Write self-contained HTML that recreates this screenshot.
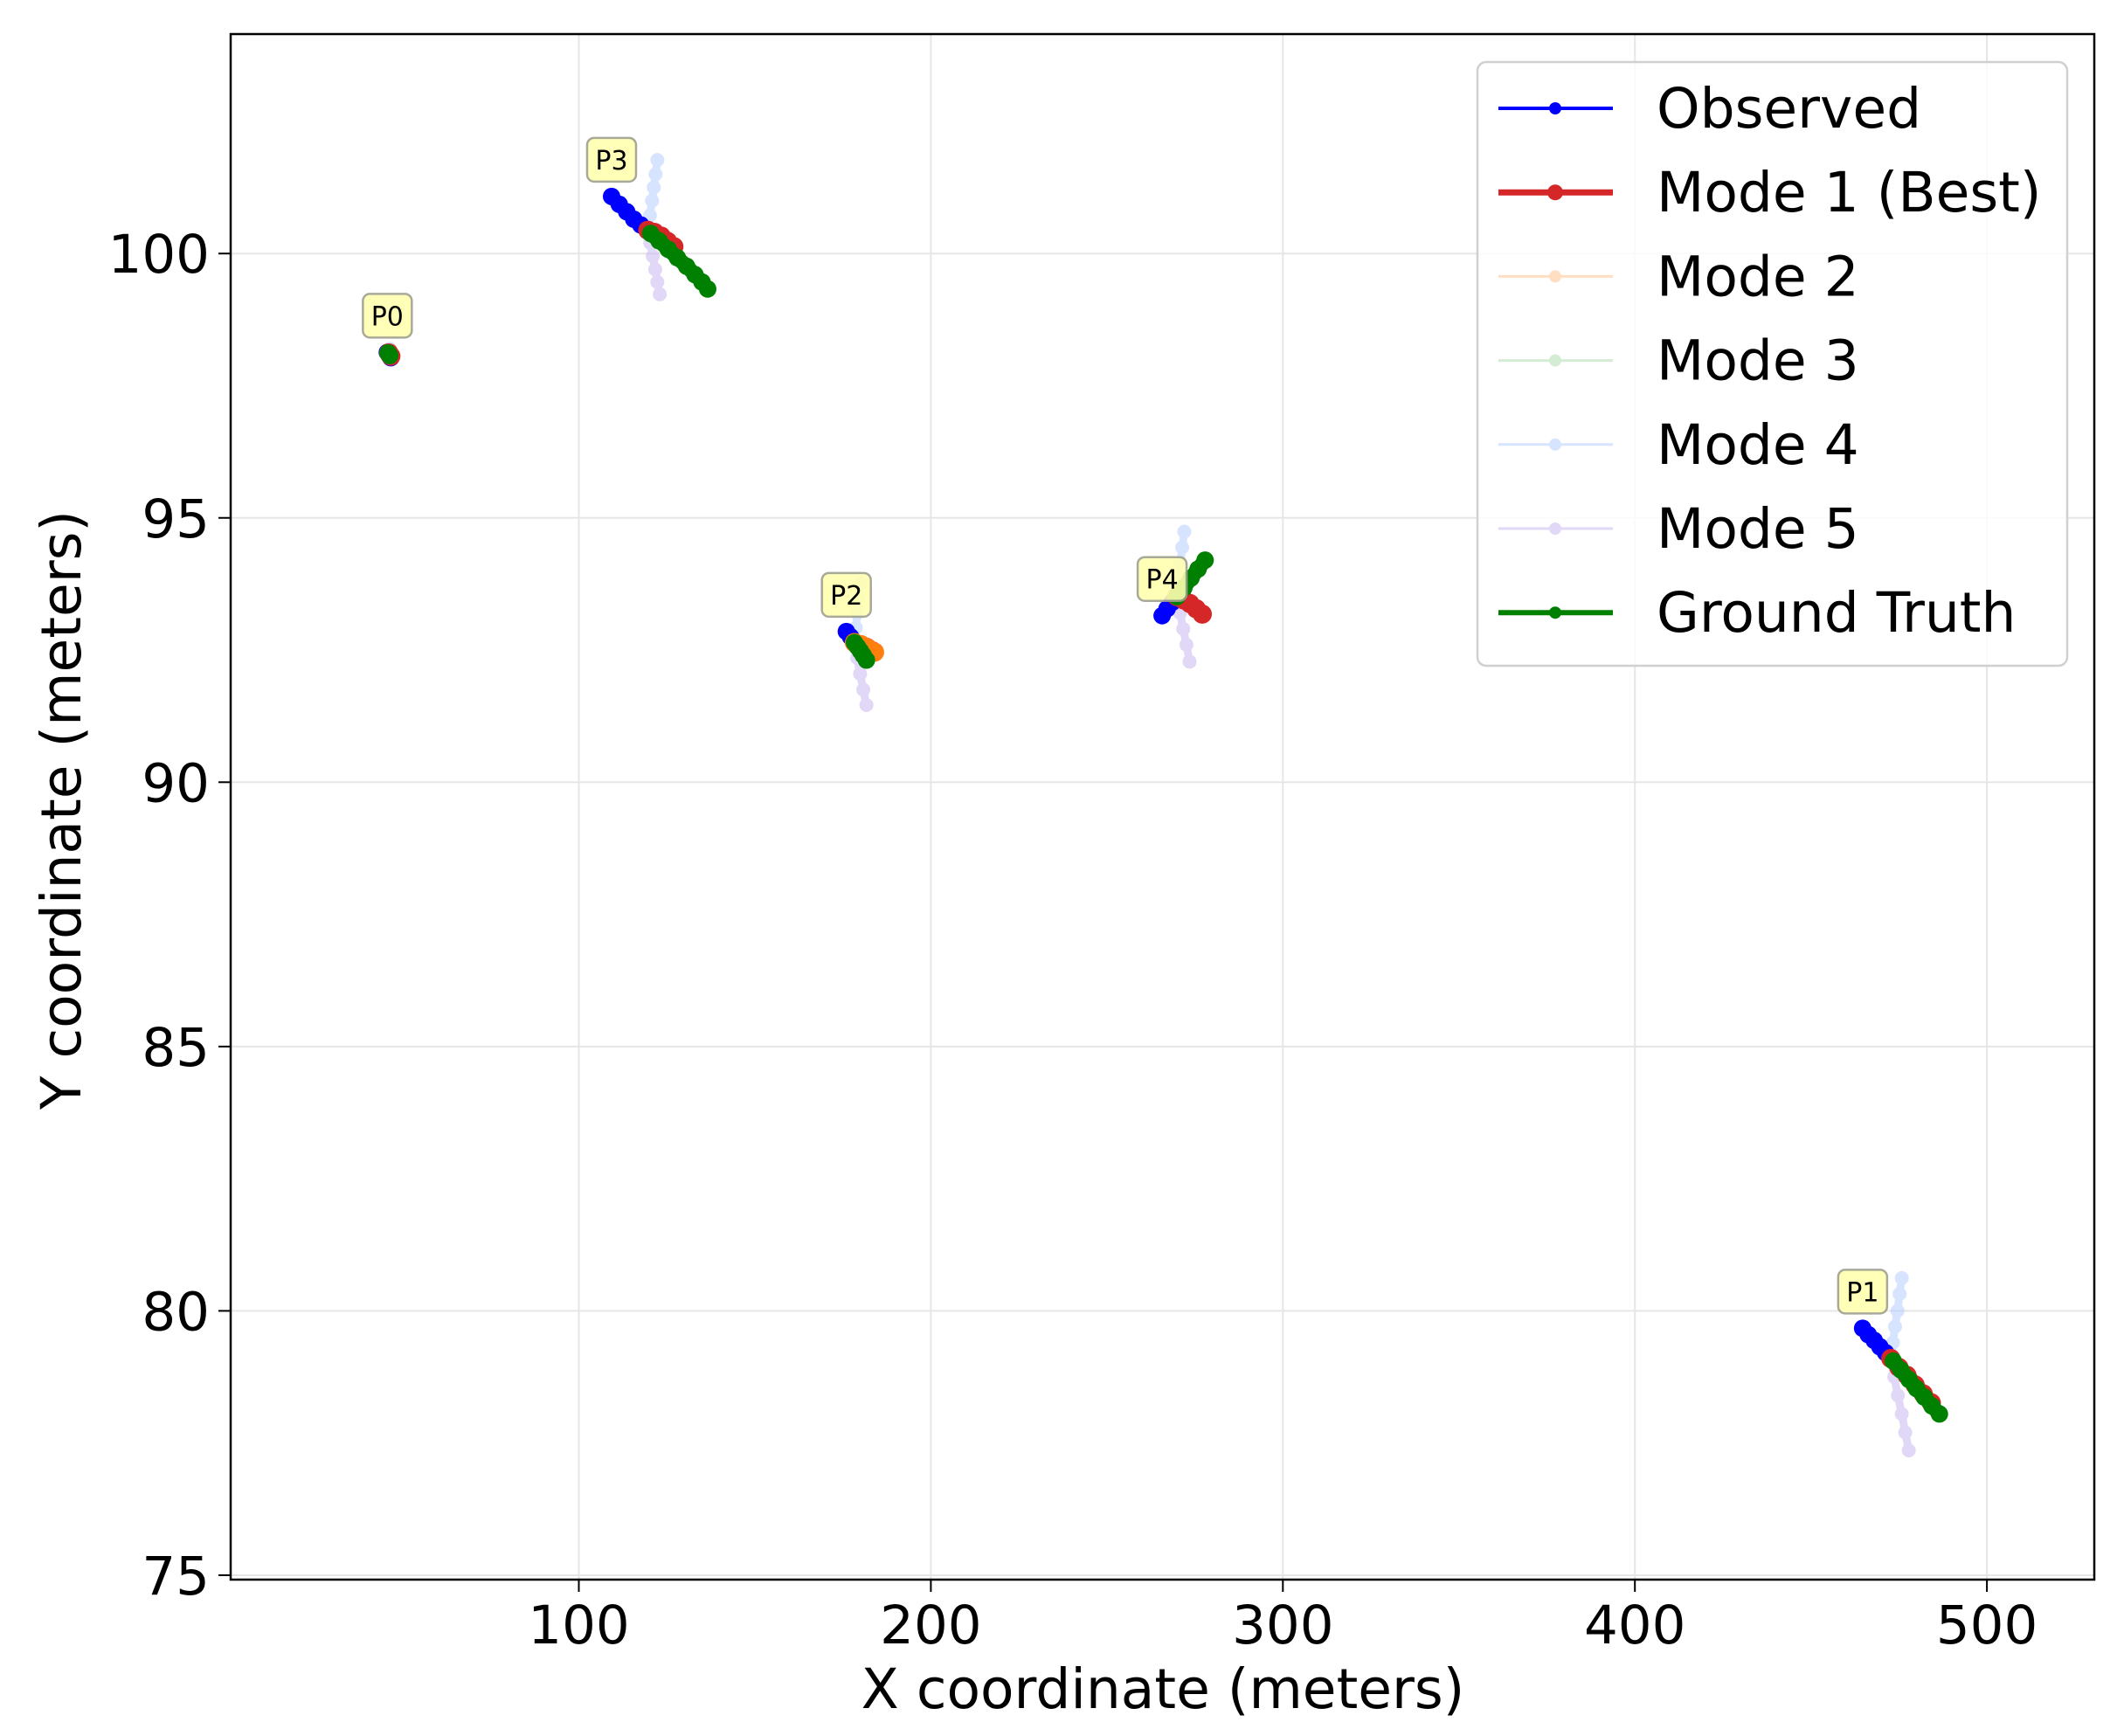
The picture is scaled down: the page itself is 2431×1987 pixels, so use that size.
<!DOCTYPE html>
<html><head><meta charset="utf-8"><style>
html,body{margin:0;padding:0;background:#fff;width:2431px;height:1987px;overflow:hidden}
svg{display:block;font-family:"DejaVu Sans","Liberation Sans",sans-serif}
</style></head><body>
<svg id="chart" width="2431" height="1987" xmlns="http://www.w3.org/2000/svg"></svg>
<script>
// ---- data ----
const xTicks = [100, 200, 300, 400, 500];
const yTicks = [75, 80, 85, 90, 95, 100];
const agentLabels = ["P0", "P3", "P2", "P4", "P1"];
const observedX = [[45.6, 46.1, 46.6], [109.3, 111.5, 113.6, 115.6, 117.6, 119.6], [176.0, 177.2, 178.3], [265.7, 267.1, 268.5, 269.9], [464.7, 466.3, 468.0, 469.6, 471.2, 472.7]];
const observedY = [[98.13, 98.08, 98.03], [101.08, 100.93, 100.79, 100.65, 100.54, 100.44], [92.85, 92.75, 92.64], [93.15, 93.28, 93.40, 93.51], [79.67, 79.55, 79.44, 79.32, 79.21, 79.10]];
const mode1X = [[46.0, 46.6], [119.6, 121.5, 123.4, 125.2, 127.0], [178.3, 180.0, 181.8, 183.5], [269.9, 271.8, 273.6, 275.4, 277.1], [472.7, 475.0, 477.3, 479.6, 481.9, 484.2]];
const mode1Y = [[98.12, 98.06], [100.44, 100.40, 100.33, 100.23, 100.13], [92.64, 92.60, 92.55, 92.48], [93.51, 93.45, 93.38, 93.28, 93.18], [79.10, 78.93, 78.78, 78.60, 78.43, 78.26]];
const mode2X = [[46.0, 46.5], [119.6, 123.0, 126.5], [178.3, 180.2, 182.1, 184.0], [269.9, 273.0, 276.0], [472.7, 477.0, 482.0]];
const mode2Y = [[98.10, 98.05], [100.44, 100.3, 100.15], [92.64, 92.60, 92.54, 92.46], [93.51, 93.40, 93.25], [79.10, 78.80, 78.40]];
const mode3X = [[46.0, 46.4], [119.6, 123.0, 126.0], [178.3, 180.0, 182.0], [269.9, 272.5, 275.0], [472.7, 477.0, 481.0]];
const mode3Y = [[98.10, 98.05], [100.44, 100.25, 100.05], [92.64, 92.50, 92.40], [93.51, 93.40, 93.30], [79.10, 78.80, 78.50]];
const mode4X = [[46.0, 46.3], [119.6, 120.2, 120.8, 121.3, 121.8, 122.3], [178.3, 178.7, 179.1, 179.5, 180.0], [269.9, 270.4, 270.9, 271.4, 272.0], [472.7, 473.3, 473.9, 474.6, 475.2, 475.8]];
const mode4Y = [[98.10, 98.20], [100.44, 100.72, 101.00, 101.25, 101.50, 101.77], [92.64, 92.92, 93.20, 93.48, 93.77], [93.51, 93.82, 94.13, 94.44, 94.74], [79.10, 79.40, 79.70, 80.00, 80.32, 80.62]];
const mode5X = [[46.0, 46.2], [119.6, 120.3, 121.0, 121.7, 122.3, 123.0], [178.3, 179.1, 179.9, 180.8, 181.7], [269.9, 270.8, 271.7, 272.6, 273.5], [472.7, 473.7, 474.7, 475.8, 476.8, 477.8]];
const mode5Y = [[98.10, 98.00], [100.44, 100.2, 99.95, 99.7, 99.46, 99.23], [92.64, 92.35, 92.05, 91.75, 91.46], [93.51, 93.2, 92.9, 92.6, 92.28], [79.10, 78.75, 78.40, 78.05, 77.70, 77.36]];
const truthX = [[45.8, 46.3], [120.4, 122.8, 125.4, 128.0, 130.6, 133.0, 135.0, 136.6], [178.3, 179.2, 180.0, 180.8, 181.7], [269.9, 271.9, 273.9, 275.9, 277.9], [473.4, 475.6, 477.9, 480.0, 482.2, 484.4, 486.5]];
const truthY = [[98.12, 98.07], [100.38, 100.24, 100.08, 99.92, 99.76, 99.6, 99.46, 99.33], [92.64, 92.56, 92.48, 92.40, 92.31], [93.51, 93.68, 93.86, 94.03, 94.20], [79.05, 78.88, 78.70, 78.53, 78.37, 78.20, 78.05]];

// ---- axes ----
const L = 264, R = 2397, T = 39, B = 1808;
const sx = v => 259.6 + v * 4.029;
const sy = v => 290.2 - (v - 100) * 60.51;
const NS = "http://www.w3.org/2000/svg";
const svg = document.getElementById('chart');
function mk(tag, attrs, parent) { const e = document.createElementNS(NS, tag); for (const k in attrs) e.setAttribute(k, attrs[k]); (parent || svg).appendChild(e); return e; }

const grid = mk('g', {});


xTicks.forEach(t => {
  const gl = mk('line', {x1: sx(t), x2: sx(t), y1: T, y2: B, stroke: '#e6e6e6', 'stroke-width': 2}, grid);
  
  
  const tk = mk('line', {x1: sx(t), x2: sx(t), y1: B, y2: B + 14, stroke: '#000', 'stroke-width': 2});
  
  
  const lb = mk('text', {x: sx(t), y: 1881, 'font-size': 61, 'text-anchor': 'middle'});
  lb.textContent = t;
  
  
});
yTicks.forEach(t => {
  const gl = mk('line', {x1: L, x2: R, y1: sy(t), y2: sy(t), stroke: '#e6e6e6', 'stroke-width': 2}, grid);
  
  
  const tk = mk('line', {x1: L - 14, x2: L, y1: sy(t), y2: sy(t), stroke: '#000', 'stroke-width': 2});
  
  
  const lb = mk('text', {x: 240, y: sy(t) + 22, 'font-size': 61, 'text-anchor': 'end'});
  lb.textContent = t;
  
  
});

// ---- series ----
function series(xs, ys, color, lw, r, op, name) {
  const g = mk('g', {opacity: op});
  
  
  xs.forEach((arr, i) => {
    const pts = arr.map((x, j) => sx(x) + ',' + sy(ys[i][j])).join(' ');
    const pl = mk('polyline', {points: pts, fill: 'none', stroke: color, 'stroke-width': lw, 'stroke-linecap': 'round', 'stroke-linejoin': 'round'}, g);
    
    
    arr.forEach((x, j) => {
      const c = mk('circle', {cx: sx(x), cy: sy(ys[i][j]), r: r, fill: color}, g);
      
      
    });
  });
}
series(mode2X, mode2Y, '#ff7f0e', 6, 7, 0.3, 'mode-2');
series(mode3X, mode3Y, '#2ca02c', 6, 7, 0.15, 'mode-3');
series(mode4X, mode4Y, '#aecbff', 9, 8, 0.5, 'mode-4');
series(mode5X, mode5Y, '#c9b8f0', 9, 8, 0.55, 'mode-5');
series(observedX, observedY, '#0000ff', 16, 10, 1, 'observed');
series(mode1X, mode1Y, '#d62728', 18, 11, 1, 'mode-1');
series([mode2X[2]], [mode2Y[2]], '#ff7f0e', 18, 11, 1, 'mode-2-p2');
series(truthX, truthY, '#008000', 17, 10, 1, 'ground-truth');

// ---- agent labels ----
agentLabels.forEach((lab, i) => {
  const x = sx(observedX[i][0]), y = sy(observedY[i][0]) - 42;
  const g = mk('g', {});
  
  
  mk('rect', {x: x - 28, y: y - 25, width: 56, height: 50, rx: 8, fill: '#ffffb0', stroke: '#a0a090', 'stroke-width': 2.5, opacity: 0.9}, g);
  const t = mk('text', {x: x, y: y + 11, 'font-size': 30, 'text-anchor': 'middle'}, g);
  t.textContent = lab;
});

// frame
const fr = mk('rect', {x: L, y: T, width: R - L, height: B - T, fill: 'none', stroke: '#000', 'stroke-width': 2.5});



// axis titles
const xt = mk('text', {x: 1331, y: 1955, 'font-size': 63, 'text-anchor': 'middle'});
xt.textContent = 'X coordinate (meters)';


const yt = mk('text', {x: 0, y: 0, 'font-size': 63, 'text-anchor': 'middle', transform: 'translate(92,927) rotate(-90)'});
yt.textContent = 'Y coordinate (meters)';



// ---- legend ----
const legNames = ['Observed', 'Mode 1 (Best)', 'Mode 2', 'Mode 3', 'Mode 4', 'Mode 5', 'Ground Truth'];
const legColors = ['#0000ff', '#d62728', '#ff7f0e', '#2ca02c', '#aecbff', '#c9b8f0', '#008000'];
const legOp = [1, 1, 0.25, 0.2, 0.5, 0.55, 1];
const legW = [4, 7, 3, 3, 3, 3, 6];
const lg = mk('g', {});


mk('rect', {x: 1691, y: 71, width: 675, height: 691, rx: 10, fill: '#fff', 'fill-opacity': 0.8, stroke: '#d0d0d0', 'stroke-width': 2.5}, lg);
legNames.forEach((n, i) => {
  const y = 124 + i * 96.2;
  const e = mk('g', {opacity: legOp[i]}, lg);
  
  
  mk('line', {x1: 1715, x2: 1846, y1: y, y2: y, stroke: legColors[i], 'stroke-width': legW[i]}, e);
  mk('circle', {cx: 1780, cy: y, r: i === 1 ? 9 : 7, fill: legColors[i]}, e);
  const t = mk('text', {x: 1896, y: y + 22, 'font-size': 63, fill: '#000'}, lg);
  t.textContent = n;
  
  
});
</script>
</body></html>
